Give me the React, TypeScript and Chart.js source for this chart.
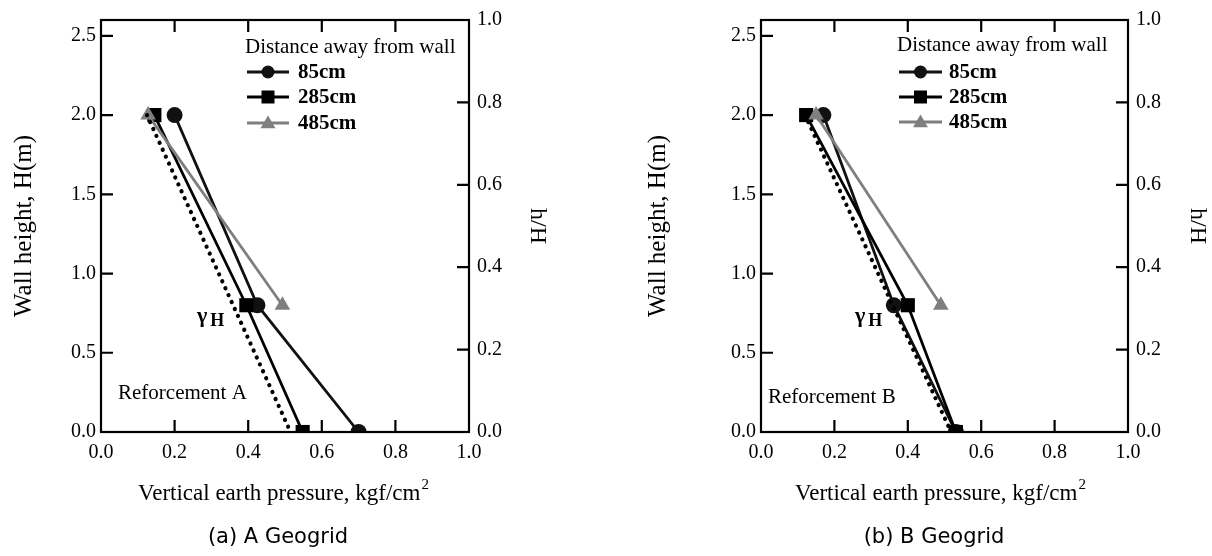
import React, { useEffect, useRef } from "react";
import { Chart, registerables } from "chart.js";
Chart.register(...registerables);

// ---------- data ----------
const seriesLabels = ["85cm", "285cm", "485cm"];
const seriesColors = ["#111111", "#000000", "#7f7f7f"];
const seriesMarkers = ["circle", "rect", "triangle"];

const heightLevels = [2.0, 0.8, 0.0];
const heightLevels485 = [2.0, 0.8];
const gammaHeights = [2.0, 0.0];

const pressureA85 = [0.2, 0.425, 0.7];
const pressureA285 = [0.145, 0.395, 0.548];
const pressureA485 = [0.128, 0.493];
const gammaA = [0.125, 0.515];

const pressureB85 = [0.17, 0.362, 0.531];
const pressureB285 = [0.123, 0.4, 0.531];
const pressureB485 = [0.15, 0.49];
const gammaB = [0.12, 0.518];

const xTicks = [0, 0.2, 0.4, 0.6, 0.8, 1.0];
const heightTicks = [0, 0.5, 1.0, 1.5, 2.0, 2.5];
const ratioTicks = [0, 0.2, 0.4, 0.6, 0.8, 1.0];

const SERIF = "'Liberation Serif', 'Times New Roman', 'DejaVu Serif', serif";
const SANS = "'DejaVu Sans', 'Noto Sans', sans-serif";

type Layout = {
  W: number;
  H: number;
  plot: { left: number; right: number; top: number; bottom: number };
  yTitleX: number;
  y2TitleX: number;
  xTitle: { x: number; y: number };
  caption: { x: number; y: number; text: string };
  legend: { titleX: number; titleY: number; lineX0: number; lineX1: number; textX: number; rows: number[] };
  gammaLabel: { x: number; y: number };
  note: { x: number; y: number; text: string };
};

function pts(xs: number[], ys: number[]) {
  return xs.map((x, i) => ({ x, y: ys[i] }));
}

function drawMarker(ctx: CanvasRenderingContext2D, style: string, x: number, y: number, r: number, color: string) {
  ctx.save();
  ctx.fillStyle = color;
  ctx.beginPath();
  if (style === "circle") {
    ctx.arc(x, y, r, 0, Math.PI * 2);
  } else if (style === "rect") {
    ctx.rect(x - r, y - r, 2 * r, 2 * r);
  } else {
    ctx.moveTo(x, y - r * 1.15);
    ctx.lineTo(x + r * 1.15, y + r * 0.8);
    ctx.lineTo(x - r * 1.15, y + r * 0.8);
    ctx.closePath();
  }
  ctx.fill();
  ctx.restore();
}

const decorPlugin = {
  id: "decor",
  afterDraw(chart: any, _args: any, opts: any) {
    const L: Layout = opts.layout;
    const { ctx, chartArea: a, scales } = chart;
    ctx.save();
    ctx.strokeStyle = "#000";
    ctx.lineWidth = 2.2;
    ctx.strokeRect(a.left, a.top, a.right - a.left, a.bottom - a.top);
    const tl = 12;
    ctx.beginPath();
    scales.x.ticks.forEach((t: any) => {
      const px = scales.x.getPixelForValue(t.value);
      if (px <= a.left + 1 || px >= a.right - 1) return;
      ctx.moveTo(px, a.bottom);
      ctx.lineTo(px, a.bottom - tl);
      ctx.moveTo(px, a.top);
      ctx.lineTo(px, a.top + tl);
    });
    scales.y.ticks.forEach((t: any) => {
      const py = scales.y.getPixelForValue(t.value);
      if (py >= a.bottom - 1 || py <= a.top + 1) return;
      ctx.moveTo(a.left, py);
      ctx.lineTo(a.left + tl, py);
    });
    scales.y2.ticks.forEach((t: any) => {
      const py = scales.y2.getPixelForValue(t.value);
      if (py >= a.bottom - 1 || py <= a.top + 1) return;
      ctx.moveTo(a.right, py);
      ctx.lineTo(a.right - tl, py);
    });
    ctx.stroke();

    const cy = (a.top + a.bottom) / 2;
    ctx.fillStyle = "#000";
    // left title
    ctx.save();
    ctx.translate(L.yTitleX, cy);
    ctx.rotate(-Math.PI / 2);
    ctx.font = `25px ${SERIF}`;
    ctx.textAlign = "center";
    ctx.textBaseline = "middle";
    ctx.fillText("Wall height, H(m)", 0, 0);
    ctx.restore();
    // right title
    ctx.save();
    ctx.translate(L.y2TitleX, cy);
    ctx.rotate(Math.PI / 2);
    ctx.font = `24px ${SERIF}`;
    ctx.textAlign = "center";
    ctx.textBaseline = "middle";
    ctx.fillText("h/H", 0, 0);
    ctx.restore();
    // x title with superscript
    ctx.font = `23px ${SERIF}`;
    const main = "Vertical earth pressure, kgf/cm";
    const mw = ctx.measureText(main).width;
    ctx.font = `15px ${SERIF}`;
    const sw = ctx.measureText("2").width;
    const x0 = L.xTitle.x - (mw + sw) / 2;
    ctx.font = `23px ${SERIF}`;
    ctx.textAlign = "left";
    ctx.textBaseline = "alphabetic";
    ctx.fillText(main, x0, L.xTitle.y);
    ctx.font = `15px ${SERIF}`;
    ctx.fillText("2", x0 + mw + 1, L.xTitle.y - 11);
    // caption
    ctx.font = `21px ${SANS}`;
    ctx.textAlign = "center";
    ctx.textBaseline = "middle";
    ctx.fillText(L.caption.text, L.caption.x, L.caption.y);

    // legend
    const lg = L.legend;
    ctx.font = `21px ${SERIF}`;
    ctx.textAlign = "left";
    ctx.textBaseline = "middle";
    ctx.fillText("Distance away from wall", lg.titleX, lg.titleY);
    ctx.font = `bold 21px ${SERIF}`;
    seriesLabels.forEach((lab, i) => {
      const y = lg.rows[i];
      ctx.strokeStyle = seriesColors[i];
      ctx.lineWidth = 2.8;
      ctx.beginPath();
      ctx.moveTo(lg.lineX0, y);
      ctx.lineTo(lg.lineX1, y);
      ctx.stroke();
      drawMarker(ctx, seriesMarkers[i], (lg.lineX0 + lg.lineX1) / 2, y, 6.5, seriesColors[i]);
      ctx.fillStyle = "#000";
      ctx.fillText(lab, lg.textX, y + 1);
    });

    // gamma label
    ctx.fillStyle = "#000";
    ctx.textAlign = "left";
    ctx.textBaseline = "alphabetic";
    ctx.font = `bold 22px ${SERIF}`;
    ctx.fillText("γ", L.gammaLabel.x, L.gammaLabel.y);
    const gw = ctx.measureText("γ").width;
    ctx.font = `bold 18px ${SERIF}`;
    ctx.fillText("H", L.gammaLabel.x + gw + 3, L.gammaLabel.y + 4);
    // note
    ctx.font = `21px ${SERIF}`;
    ctx.textBaseline = "middle";
    ctx.fillText(L.note.text, L.note.x, L.note.y);
    ctx.restore();
  },
};

type Props = {
  layout: Layout;
  p85: number[];
  p285: number[];
  p485: number[];
  gamma: number[];
};

const markerRadius = [8, 10, 9];

function PressureChart({ layout, p85, p285, p485, gamma }: Props) {
  const ref = useRef<HTMLCanvasElement | null>(null);
  useEffect(() => {
    if (!ref.current) return;
    const L = layout;
    const tickFont = { family: SERIF, size: 20 };
    const mk = (i: number, xs: number[], ys: number[]) => ({
      label: seriesLabels[i],
      data: pts(xs, ys),
      borderColor: seriesColors[i],
      backgroundColor: seriesColors[i],
      borderWidth: 2.8,
      pointStyle: seriesMarkers[i],
      pointRadius: markerRadius[i],
      pointBorderWidth: 0,
      fill: false,
      tension: 0,
      xAxisID: "x",
      yAxisID: "y",
    });
    const chart = new Chart(ref.current, {
      type: "line",
      data: {
        datasets: [
          {
            label: "γH",
            data: pts(gamma, gammaHeights),
            borderColor: "#000",
            borderWidth: 4.2,
            borderDash: [0.1, 7.5],
            borderCapStyle: "round",
            pointRadius: 0,
            fill: false,
            xAxisID: "x",
            yAxisID: "y",
          } as any,
          mk(2, p485, heightLevels485),
          mk(1, p285, heightLevels),
          mk(0, p85, heightLevels),
        ],
      },
      options: {
        animation: false,
        responsive: false,
        devicePixelRatio: 1,
        layout: { padding: { top: L.plot.top, left: 0, right: 0, bottom: 0 } },
        plugins: {
          legend: { display: false },
          tooltip: { enabled: false },
          decor: { layout: L },
        } as any,
        scales: {
          x: {
            type: "linear",
            position: "bottom",
            min: 0,
            max: 1,
            grid: { display: false, drawTicks: false },
            border: { display: false },
            ticks: {
              padding: 9,
              color: "#000",
              font: tickFont,
              maxRotation: 0,
              autoSkip: false,
              callback: (v: any) => Number(v).toFixed(1),
            },
            afterBuildTicks: (s: any) => {
              s.ticks = xTicks.map((v) => ({ value: v }));
            },
            afterFit: (s: any) => {
              s.height = L.H - L.plot.bottom;
            },
          },
          y: {
            type: "linear",
            position: "left",
            min: 0,
            max: 2.6,
            grid: { display: false, drawTicks: false },
            border: { display: false },
            ticks: {
              padding: 5,
              color: "#000",
              font: tickFont,
              autoSkip: false,
              callback: (v: any) => Number(v).toFixed(1),
            },
            afterBuildTicks: (s: any) => {
              s.ticks = heightTicks.map((v) => ({ value: v }));
            },
            afterFit: (s: any) => {
              s.width = L.plot.left;
            },
          },
          y2: {
            type: "linear",
            position: "right",
            min: 0,
            max: 1,
            grid: { display: false, drawTicks: false },
            border: { display: false },
            ticks: {
              padding: 8,
              color: "#000",
              font: tickFont,
              autoSkip: false,
              callback: (v: any) => Number(v).toFixed(1),
            },
            afterBuildTicks: (s: any) => {
              s.ticks = ratioTicks.map((v) => ({ value: v }));
            },
            afterFit: (s: any) => {
              s.width = L.W - L.plot.right;
            },
          },
        } as any,
      },
      plugins: [decorPlugin as any],
    });
    return () => chart.destroy();
  }, [layout, p85, p285, p485, gamma]);
  return (
    <canvas
      ref={ref}
      width={layout.W}
      height={layout.H}
      style={{ width: layout.W, height: layout.H, display: "block" }}
    />
  );
}

const layoutA: Layout = {
  W: 606,
  H: 556,
  plot: { left: 101, right: 469, top: 15, bottom: 432 },
  yTitleX: 24,
  y2TitleX: 537,
  xTitle: { x: 283, y: 500 },
  caption: { x: 278, y: 538, text: "(a) A Geogrid" },
  legend: { titleX: 245, titleY: 47, lineX0: 247, lineX1: 289, textX: 298, rows: [72, 97, 123] },
  gammaLabel: { x: 197, y: 322 },
  note: { x: 118, y: 393, text: "Reforcement A" },
};

const layoutB: Layout = {
  W: 606,
  H: 556,
  plot: { left: 155, right: 522, top: 15, bottom: 432 },
  yTitleX: 52,
  y2TitleX: 591,
  xTitle: { x: 334, y: 500 },
  caption: { x: 328, y: 538, text: "(b) B Geogrid" },
  legend: { titleX: 291, titleY: 45, lineX0: 293, lineX1: 336, textX: 343, rows: [72, 97, 122] },
  gammaLabel: { x: 249, y: 322 },
  note: { x: 162, y: 397, text: "Reforcement B" },
};

export default function App() {
  return (
    <div
      style={{
        position: "absolute",
        left: 0,
        top: 0,
        width: 1212,
        height: 556,
        display: "flex",
        background: "#fff",
      }}
    >
      <PressureChart layout={layoutA} p85={pressureA85} p285={pressureA285} p485={pressureA485} gamma={gammaA} />
      <PressureChart layout={layoutB} p85={pressureB85} p285={pressureB285} p485={pressureB485} gamma={gammaB} />
    </div>
  );
}
